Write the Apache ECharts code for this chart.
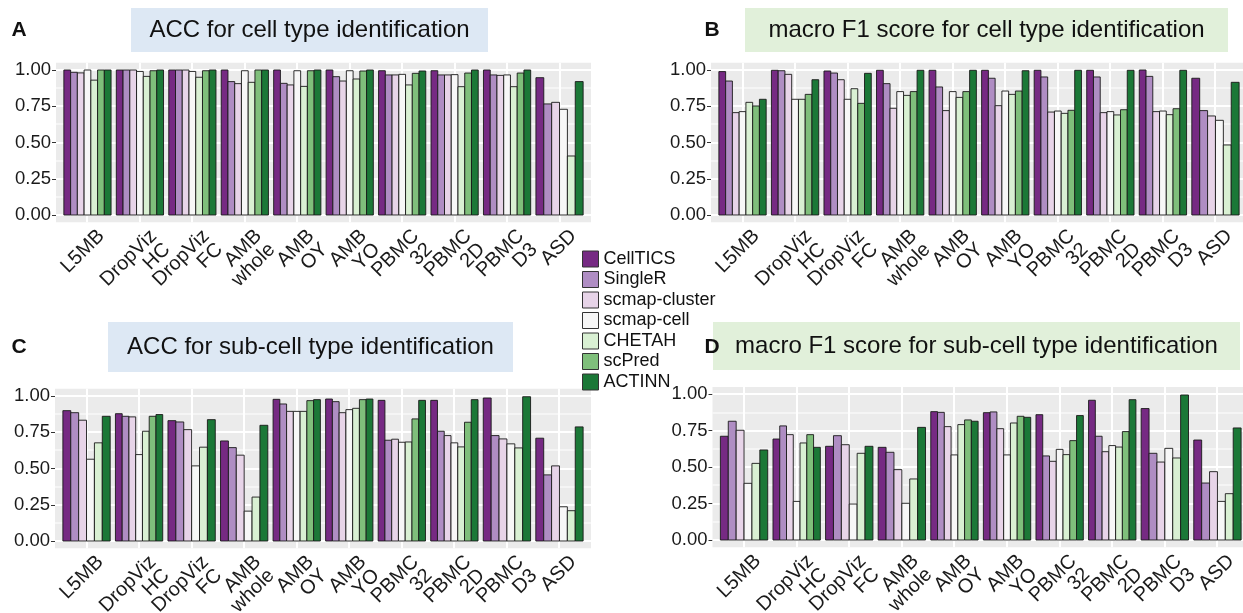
<!DOCTYPE html>
<html>
<head>
<meta charset="utf-8">
<script src="https://cdn.jsdelivr.net/npm/echarts@6/dist/echarts.min.js"></script>
<style>
  html, body { margin: 0; padding: 0; background: #ffffff; }
  #chart { width: 1243px; height: 613px; }
</style>
</head>
<body>
<div id="chart"></div>
<script>
// Datasets along the x axis
const categories = ['L5MB', 'DropViz\nHC', 'DropViz\nFC', 'AMB\nwhole', 'AMB\nOY', 'AMB\nYO',
  'PBMC\n32', 'PBMC\n2D', 'PBMC\nD3', 'ASD'];

// Annotation methods (one bar per method per dataset)
const methods = ['CellTICS', 'SingleR', 'scmap-cluster', 'scmap-cell', 'CHETAH', 'scPred', 'ACTINN'];
const methodColors = ['#762a83', '#af8dc3', '#e7d4e8', '#f7f7f7', '#d9f0d3', '#7fbf7b', '#1b7837'];

// y-axis tick labels
const yTicks = [0, 0.25, 0.5, 0.75, 1.0];
const yMinorTicks = [0.125, 0.375, 0.625, 0.875];

// A: ACC, cell type (rows follow `methods`; null = method not run)
const accCellType = [
  [1.00, 1.00, 1.00, 1.00, 1.00, 1.00, 0.995, 0.995, 1.00, 0.947],
  [0.984, 1.00, 1.00, 0.92, 0.908, 0.954, 0.966, 0.966, 0.966, 0.766],
  [0.98, 1.00, 1.00, 0.906, 0.897, 0.924, 0.966, 0.966, 0.963, 0.777],
  [1.00, 0.99, 0.99, 0.995, 0.995, 0.995, 0.97, 0.968, 0.966, 0.729],
  [0.93, 0.956, 0.95, 0.915, 0.887, 0.938, 0.897, 0.885, 0.885, 0.407],
  [1.00, 0.995, 0.995, 1.00, 0.995, 0.993, 0.977, 0.979, 0.979, null],
  [1.00, 1.00, 1.00, 1.00, 1.00, 1.00, 0.993, 1.00, 1.00, 0.92]
];

// B: macro F1, cell type
const f1CellType = [
  [0.989, 0.998, 0.993, 0.998, 0.998, 0.998, 0.998, 0.998, 1.00, 0.943],
  [0.924, 0.995, 0.979, 0.906, 0.883, 0.943, 0.952, 0.952, 0.956, 0.720],
  [0.706, 0.970, 0.933, 0.736, 0.720, 0.754, 0.710, 0.706, 0.713, 0.683],
  [0.713, 0.798, 0.798, 0.851, 0.851, 0.855, 0.717, 0.713, 0.717, 0.653],
  [0.777, 0.798, 0.871, 0.825, 0.811, 0.832, 0.701, 0.690, 0.692, 0.483],
  [0.752, 0.832, 0.770, 0.851, 0.851, 0.855, 0.722, 0.726, 0.733, null],
  [0.798, 0.933, 0.977, 0.998, 0.998, 0.995, 0.998, 0.998, 0.998, 0.915]
];

// C: ACC, sub-cell type
const accSubType = [
  [0.899, 0.878, 0.830, 0.690, 0.977, 0.979, 0.970, 0.970, 0.986, 0.709],
  [0.885, 0.860, 0.821, 0.644, 0.945, 0.961, 0.695, 0.757, 0.727, 0.456],
  [0.833, 0.856, 0.768, 0.592, 0.894, 0.885, 0.702, 0.727, 0.704, 0.518],
  [0.564, 0.596, 0.518, 0.206, 0.894, 0.906, 0.681, 0.677, 0.670, 0.236],
  [0.677, 0.757, 0.647, 0.303, 0.894, 0.915, 0.683, 0.649, 0.642, 0.209],
  [null, 0.860, null, null, 0.968, 0.975, 0.842, 0.819, null, null],
  [0.860, 0.872, 0.837, 0.798, 0.975, 0.979, 0.970, 0.975, 0.995, 0.787]
];

// D: macro F1, sub-cell type
const f1SubType = [
  [0.712, 0.693, 0.643, 0.636, 0.881, 0.874, 0.860, 0.959, 0.902, 0.686],
  [0.815, 0.783, 0.716, 0.602, 0.876, 0.879, 0.577, 0.712, 0.595, 0.391],
  [0.753, 0.723, 0.654, 0.483, 0.778, 0.764, 0.540, 0.606, 0.535, 0.469],
  [0.389, 0.265, 0.247, 0.252, 0.584, 0.584, 0.622, 0.648, 0.629, 0.265],
  [0.526, 0.666, 0.595, 0.419, 0.792, 0.803, 0.586, 0.638, 0.563, 0.318],
  [null, 0.723, null, null, 0.824, 0.849, 0.682, 0.744, null, null],
  [0.618, 0.636, 0.643, 0.773, 0.815, 0.842, 0.854, 0.963, 0.995, 0.769]
];

const panelTitles = [
  'ACC for cell type identification',
  'macro F1 score for cell type identification',
  'ACC for sub-cell type identification',
  'macro F1 score for sub-cell type identification'
];
const panelLetters = ['A', 'B', 'C', 'D'];

const FONT = '"Liberation Sans", Arial, Helvetica, sans-serif';
const panels = [accCellType, f1CellType, accSubType, f1SubType];

// Plot-area boxes (grey panel, incl. ggplot-style expansion); right panels run to the page edge
const gridBoxes = [
  { left: 56, top: 62.75, width: 535, height: 159.5, xMax: 10.6 },
  { left: 711, top: 62.75, width: 532, height: 159.5, xMax: 10.524 },
  { left: 55, top: 388.75, width: 536, height: 159.5, xMax: 10.6 },
  { left: 712.5, top: 387, width: 530.5, height: 160.3, xMax: 10.486 }
];
const titleBoxes = [
  { x: 131, y: 8, w: 357, h: 44, fill: '#dde8f4' },
  { x: 745, y: 8, w: 483, h: 44, fill: '#e1f0da' },
  { x: 108, y: 322, w: 405, h: 50, fill: '#dde8f4' },
  { x: 713, y: 322, w: 527, h: 48, fill: '#e1f0da' }
];
const letterPos = [[19, 30], [712, 30], [19, 347], [712, 347]];

const X_MIN = 0.4, Y_MIN = -0.05, Y_MAX = 1.05;
const catPositions = categories.map((c, i) => i + 1);

// Dodged bars: methods missing for a dataset give their width to the others
function dodgeRenderer(rows, m) {
  return function (params, api) {
    const ci = api.value(2);
    const present = [];
    for (let k = 0; k < rows.length; k++) if (rows[k][ci] != null) present.push(k);
    const n = present.length;
    const rank = present.indexOf(m);
    const band = api.size([1, 0])[0];
    const groupW = band * 0.9;
    const w = groupW / n;
    const base = api.coord([api.value(0), 0]);
    const top = api.coord([api.value(0), api.value(1)]);
    return {
      type: 'rect',
      shape: { x: base[0] - groupW / 2 + rank * w, y: top[1], width: w, height: base[1] - top[1] },
      style: { fill: methodColors[m], stroke: 'rgba(25,25,25,0.9)', lineWidth: 1 }
    };
  };
}

// White panel grid: major/minor horizontals and a vertical per dataset
function gridRenderer(xMax) {
  return function (params, api) {
    const children = [];
    const hLine = (v, w) => {
      const a = api.coord([X_MIN, v]), b = api.coord([xMax, v]);
      const y = Math.round(a[1]);
      children.push({ type: 'rect', shape: { x: a[0], y: y - w / 2, width: b[0] - a[0], height: w },
        style: { fill: '#ffffff' } });
    };
    yMinorTicks.forEach(v => hLine(v, 1));
    yTicks.forEach(v => hLine(v, 2));
    catPositions.forEach(x => {
      const a = api.coord([x, Y_MIN]), b = api.coord([x, Y_MAX]);
      const xx = Math.round(a[0]);
      children.push({ type: 'rect', shape: { x: xx - 1, y: b[1], width: 2, height: a[1] - b[1] },
        style: { fill: '#ffffff' } });
    });
    return { type: 'group', children };
  };
}

// Rotated dataset names hanging below each tick (right-aligned, 45 degrees)
function xLabelRenderer(params, api) {
  const pt = api.coord([api.value(0), Y_MIN]);
  return {
    type: 'text',
    x: pt[0] + 7, y: pt[1] + 4,
    rotation: Math.PI / 4,
    style: {
      text: categories[api.value(2)],
      font: '20px ' + FONT, fill: '#1a1a1a',
      align: 'right', verticalAlign: 'top', lineHeight: 19
    }
  };
}

const grid = [], xAxis = [], yAxis = [], series = [], graphic = [];

panels.forEach((rows, p) => {
  const gb = gridBoxes[p];
  grid.push({ show: true, backgroundColor: '#ebebeb', borderWidth: 0,
    left: gb.left, top: gb.top, width: gb.width, height: gb.height });

  xAxis.push({
    type: 'value', gridIndex: p, min: X_MIN, max: gb.xMax,
    axisLine: { show: false },
    axisTick: { show: true, length: 4, lineStyle: { color: '#333' }, customValues: catPositions },
    axisLabel: { show: false },
    splitLine: { show: false }
  });

  yAxis.push({
    type: 'value', gridIndex: p, min: Y_MIN, max: Y_MAX,
    axisLine: { show: false },
    axisTick: { show: true, length: 4, lineStyle: { color: '#333' }, customValues: yTicks },
    axisLabel: {
      show: true, customValues: yTicks, margin: 5,
      showMinLabel: true, showMaxLabel: true,
      formatter: v => v.toFixed(2),
      fontFamily: FONT, fontSize: 18.5, color: '#1a1a1a'
    },
    splitLine: { show: false }
  });

  series.push({
    name: 'panel-grid-' + p, type: 'custom', xAxisIndex: p, yAxisIndex: p,
    renderItem: gridRenderer(gb.xMax), data: [[1, 0.5]], z: 1, silent: true
  });

  series.push({
    name: 'x-labels-' + p, type: 'custom', xAxisIndex: p, yAxisIndex: p,
    renderItem: xLabelRenderer, data: catPositions.map((x, i) => [x, Y_MIN, i]),
    z: 3, silent: true, clip: false
  });

  rows.forEach((vals, m) => {
    const data = [];
    vals.forEach((v, i) => { if (v != null) data.push([i + 1, v, i]); });
    series.push({
      name: methods[m], type: 'custom', xAxisIndex: p, yAxisIndex: p,
      encode: { x: 0, y: 1 },
      itemStyle: { color: methodColors[m], borderColor: '#333', borderWidth: 1 },
      renderItem: dodgeRenderer(rows, m),
      data: data, z: 5
    });
  });

  const tb = titleBoxes[p];
  graphic.push({
    type: 'rect', left: tb.x, top: tb.y, shape: { width: tb.w, height: tb.h },
    style: { fill: tb.fill }, z: 1
  });
  graphic.push({
    type: 'text', x: tb.x + tb.w / 2, y: tb.y + tb.h / 2,
    style: { text: panelTitles[p], font: '24px ' + FONT, fill: '#111', align: 'center', verticalAlign: 'middle' },
    z: 2
  });
  graphic.push({
    type: 'text', x: letterPos[p][0], y: letterPos[p][1],
    style: { text: panelLetters[p], font: 'bold 21px ' + FONT, fill: '#111', align: 'center', verticalAlign: 'middle' },
    z: 2
  });
});

const chart = echarts.init(document.getElementById('chart'), null, { renderer: 'canvas' });
chart.setOption({
  animation: false,
  backgroundColor: '#ffffff',
  grid, xAxis, yAxis, series, graphic,
  legend: {
    data: methods, orient: 'vertical', left: 577, top: 245,
    icon: 'rect', itemWidth: 16, itemHeight: 16, itemGap: 2.5,
    itemStyle: { borderColor: '#333', borderWidth: 1 },
    textStyle: { fontFamily: FONT, fontSize: 18, color: '#111', lineHeight: 16 },
    selectedMode: false
  }
});
</script>
</body>
</html>
